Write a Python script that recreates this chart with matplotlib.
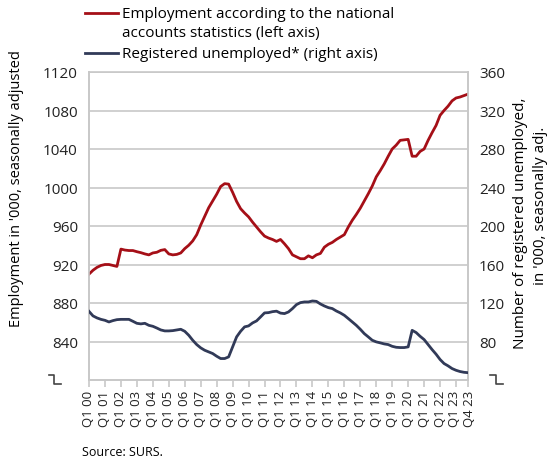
import matplotlib
matplotlib.use("Agg")
import matplotlib.pyplot as plt
from matplotlib.lines import Line2D
import matplotlib.transforms as mtransforms
import numpy as np

plt.rcParams['font.family'] = ['Open Sans', 'DejaVu Sans']

# Quarterly data Q1 2000 .. Q4 2023
employment = [910, 914, 917, 919, 920, 920, 919, 918, 936, 935, 934.5, 934.5,
              933.3, 932.3, 931, 930, 932, 932.7, 934.7, 935.5, 931, 930, 930.5, 932,
              936.5, 940, 944.5, 951, 961, 970, 979, 986, 993, 1001, 1004, 1003.5,
              995, 985.5, 978, 973.5, 969.5, 964, 959, 954, 949.5, 947.5, 946, 944,
              946, 941.5, 936.5, 930, 928, 926, 926, 929, 927, 930, 931.5, 938,
              941, 943, 946, 948.5, 951, 959, 966, 972, 978.5, 986, 993.5, 1001.5,
              1011, 1017.5, 1024.5, 1032.5, 1040, 1044, 1049, 1049.5, 1050, 1032.5, 1032.5, 1037.5,
              1040, 1049, 1057, 1064.5, 1075, 1080, 1084.5, 1090, 1093, 1094, 1095.5, 1097]

unemployed = [111.3, 106.6, 104.5, 103, 102, 100.3, 101.7, 102.7, 103, 103, 103, 101,
              98.9, 98.3, 98.9, 96.8, 95.8, 94, 92, 91, 91, 91.3, 92, 92.7,
              90.6, 86.5, 81.3, 76.8, 73.4, 70.9, 69.2, 67.5, 64.7, 62.3, 62.3, 64,
              74.4, 84.8, 90.6, 95.2, 96.2, 99.3, 101.4, 105.5, 109.7, 110, 111, 111.5,
              109.5, 109, 110.7, 114.2, 118.3, 120.4, 121.1, 121.1, 122.1, 121.7, 119, 116.9,
              115.2, 114.2, 111.7, 109.7, 107.2, 103.8, 100.3, 96.8, 92.7, 88.2, 84.8, 81.3,
              79.6, 78.6, 77.5, 76.8, 75, 74, 73.7, 73.7, 74.4, 91.6, 89.3, 85.4,
              82, 76.8, 71.6, 66.8, 61.3, 57.1, 54.7, 51.9, 50.1, 48.8, 48, 47.6]

years = list(range(2000, 2024))
tick_labels = [f"Q1 {y % 100:02d}" for y in years] + ["Q4 23"]
tick_pos = [4 * i for i in range(len(years))] + [95]

left_ticks = [840, 880, 920, 960, 1000, 1040, 1080, 1120]
right_ticks = [80, 120, 160, 200, 240, 280, 320, 360]

legend_labels = ["Employment according to the national\naccounts statistics (left axis)",
                 "Registered unemployed* (right axis)"]
red = "#A50F17"
navy = "#313A58"
grid_c = "#C8C8C8"

W, H = 557, 464
fig = plt.figure(figsize=(W / 100, H / 100), dpi=100)
ax = fig.add_axes([89 / W, 1 - 381 / H, (468 - 89) / W, (381 - 73) / H])
ax2 = ax.twinx()

x = np.arange(len(employment))
ax.plot(x, employment, color=red, lw=2.0, solid_joinstyle='round', zorder=3)
ax2.plot(x, unemployed, color=navy, lw=2.0, solid_joinstyle='round', zorder=3)

ax.set_xlim(0, 95)
ax.set_ylim(800, 1120)
ax2.set_ylim(40, 360)
ax.set_yticks(left_ticks)
ax2.set_yticks(right_ticks)
ax.tick_params(axis='y', length=0, labelsize=11, pad=8, colors='#222222')
ax2.tick_params(axis='y', length=0, labelsize=11, pad=8, colors='#222222')
ax.set_xticks(tick_pos)
ax.set_xticklabels(tick_labels, rotation=90, fontsize=9.5)
ax.tick_params(axis='x', length=5, color=grid_c, width=1.2, pad=2, labelcolor='#222222')
labels = ax.get_xticklabels()
for lab, dx in [(labels[-2], -1.2), (labels[-1], 1.6)]:
    lab.set_transform(lab.get_transform() +
                      mtransforms.ScaledTranslation(dx / 100, 0, fig.dpi_scale_trans))
ax.grid(axis='y', color=grid_c, lw=1.2)
ax.set_axisbelow(True)
for a in (ax, ax2):
    for s in a.spines.values():
        s.set_color(grid_c)
        s.set_linewidth(1.2)
ax2.spines['top'].set_visible(False)
ax.patch.set_visible(False)

fs = 11
fig.text(17 / W, 1 - 189 / H, "Employment in '000, seasonally adjusted", rotation=90,
         ha='center', va='center', fontsize=10.5)
fig.text(520 / W, 1 - 223 / H, "Number of registered unemployed,", rotation=90,
         ha='center', va='center', fontsize=fs)
fig.text(540 / W, 1 - 206 / H, "in '000, seasonally adj.", rotation=90,
         ha='center', va='center', fontsize=fs)

# legend
fig.add_artist(Line2D([85 / W, 118 / W], [1 - 14 / H, 1 - 14 / H], color=red, lw=2.0))
fig.add_artist(Line2D([85 / W, 118 / W], [1 - 54 / H, 1 - 54 / H], color=navy, lw=2.0))
fig.text(122 / W, 1 - 14 / H, legend_labels[0].split("\n")[0], ha='left', va='center', fontsize=fs)
fig.text(122 / W, 1 - 34 / H, legend_labels[0].split("\n")[1], ha='left', va='center', fontsize=fs)
fig.text(122 / W, 1 - 54 / H, legend_labels[1], ha='left', va='center', fontsize=fs)

# axis break marks
for xa, xb, xc in [(49, 54, 61), (490, 496, 503)]:
    fig.add_artist(Line2D([xa / W, xb / W, xb / W, xc / W],
                          [1 - 376 / H, 1 - 376 / H, 1 - 385 / H, 1 - 385 / H],
                          color='#444444', lw=1.2))

fig.text(82 / W, 1 - 453 / H, "Source: SURS.", ha='left', va='center', fontsize=9)

fig.savefig("out.png", dpi=100)
